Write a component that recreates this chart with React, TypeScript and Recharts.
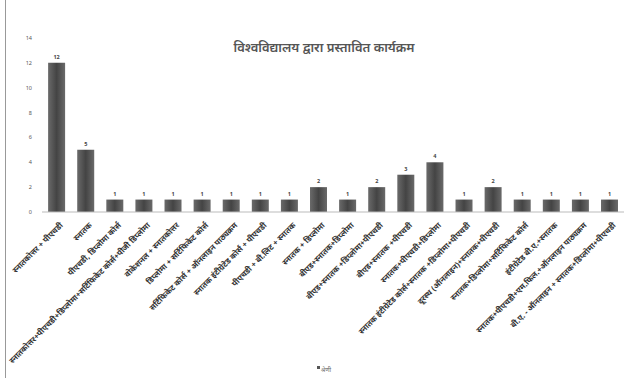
import React from "react";
import { BarChart, Bar, XAxis, YAxis, LabelList } from "recharts";

// Programs offered by the university (category labels) and counts
const programs = [
    "स्नातकोत्तर + पीएचडी",
    "स्नातक",
    "पीएचडी, डिप्लोमा कोर्स",
    "स्नातकोत्तर+पीएचडी+डिप्लोमा+सर्टिफिकेट कोर्स+पीजी डिप्लोमा",
    "वोकेशनल + स्नातकोत्तर",
    "डिप्लोमा + सर्टिफिकेट कोर्स",
    "सर्टिफिकेट कोर्स + ऑनलाइन पाठ्यक्रम",
    "स्नातक इंटीग्रेटेड कोर्स + पीएचडी",
    "पीएचडी + बी.लिट + स्नातक",
    "स्नातक + डिप्लोमा",
    "बीएड+स्नातक+डिप्लोमा",
    "बीएड+स्नातक +डिप्लोमा+पीएचडी",
    "बीएड+स्नातक +पीएचडी",
    "स्नातक+पीएचडी+डिप्लोमा",
    "स्नातक इंटीग्रेटेड कोर्स+स्नातक +डिप्लोमा+पीएचडी",
    "दूरस्थ (ऑनलाइन)+स्नातक+पीएचडी",
    "स्नातक+डिप्लोमा+सर्टिफिकेट कोर्स",
    "इंटीग्रेटेड बी.ए.+स्नातक",
    "स्नातक+पीएचडी+एम.फिल.+ऑनलाइन पाठ्यक्रम",
    "बी.ए. - ऑनलाइन + स्नातक+डिप्लोमा+पीएचडी",
];
const counts = [12, 5, 1, 1, 1, 1, 1, 1, 1, 2, 1, 2, 3, 4, 1, 2, 1, 1, 1, 1];
const yTicks = [0, 2, 4, 6, 8, 10, 12, 14];

const title = "विश्वविद्यालय द्वारा प्रस्तावित कार्यक्रम";
const seriesName = "श्रेणी";

const data = programs.map((name, i) => ({ name, value: counts[i] }));

const FONT = "'Noto Sans', 'Noto Sans Devanagari', sans-serif";

const AngledTick = (props: any) => {
    const { x, y, payload } = props;
    return (
        <g transform={`translate(${x + 4},${y + 3})`}>
            <text
                textAnchor="end"
                transform="rotate(-45)"
                fontSize={8}
                fontWeight={700}
                fill="#333"
                fontFamily={FONT}
                dy={4}
            >
                {payload.value}
            </text>
        </g>
    );
};

const App = () => {
    return (
        <div style={{ position: "absolute", left: 0, top: 0, width: 624, height: 378, background: "#fff", fontFamily: FONT }}>
            <div style={{ position: "absolute", left: 5, top: 0, width: 1, height: 378, background: "#999" }} />
            <div style={{ position: "absolute", left: 0, top: 38, width: 624, textAlign: "center", fontSize: 13, color: "#555", fontWeight: 600, paddingLeft: 12 }}>
                {title}
            </div>
            <div style={{ position: "absolute", left: 0, top: 366, width: 624, textAlign: "center", fontSize: 6, color: "#666", paddingLeft: 12 }}>
                <span style={{ display: "inline-block", width: 3, height: 3, background: "#555", marginRight: 1, verticalAlign: "top" }} />
                {seriesName}
            </div>
            <BarChart
                width={624}
                height={378}
                data={data}
                margin={{ top: 38, right: 0, left: 0, bottom: 0 }}
                barCategoryGap="21%"
                style={{ position: "absolute", left: 0, top: 0 }}
            >
                <defs>
                    <linearGradient id="barShade" x1="0" y1="0" x2="1" y2="0">
                        <stop offset="0%" stopColor="#6a6a6a" />
                        <stop offset="50%" stopColor="#444" />
                        <stop offset="100%" stopColor="#6a6a6a" />
                    </linearGradient>
                </defs>
                <XAxis
                    dataKey="name"
                    interval={0}
                    height={166}
                    tickLine={false}
                    axisLine={{ stroke: "#bbb" }}
                    tick={<AngledTick />}
                />
                <YAxis
                    width={42}
                    domain={[0, 14]}
                    ticks={yTicks}
                    axisLine={false}
                    tickLine={false}
                    tick={{ fontSize: 5.5, fill: "#555", fontFamily: FONT }}
                    tickMargin={4}
                />
                <Bar dataKey="value" fill="url(#barShade)" isAnimationActive={false}>
                    <LabelList dataKey="value" position="top" offset={4} fontSize={5.5} fontWeight={700} fill="#444" />
                </Bar>
            </BarChart>
        </div>
    );
};

export default App;
